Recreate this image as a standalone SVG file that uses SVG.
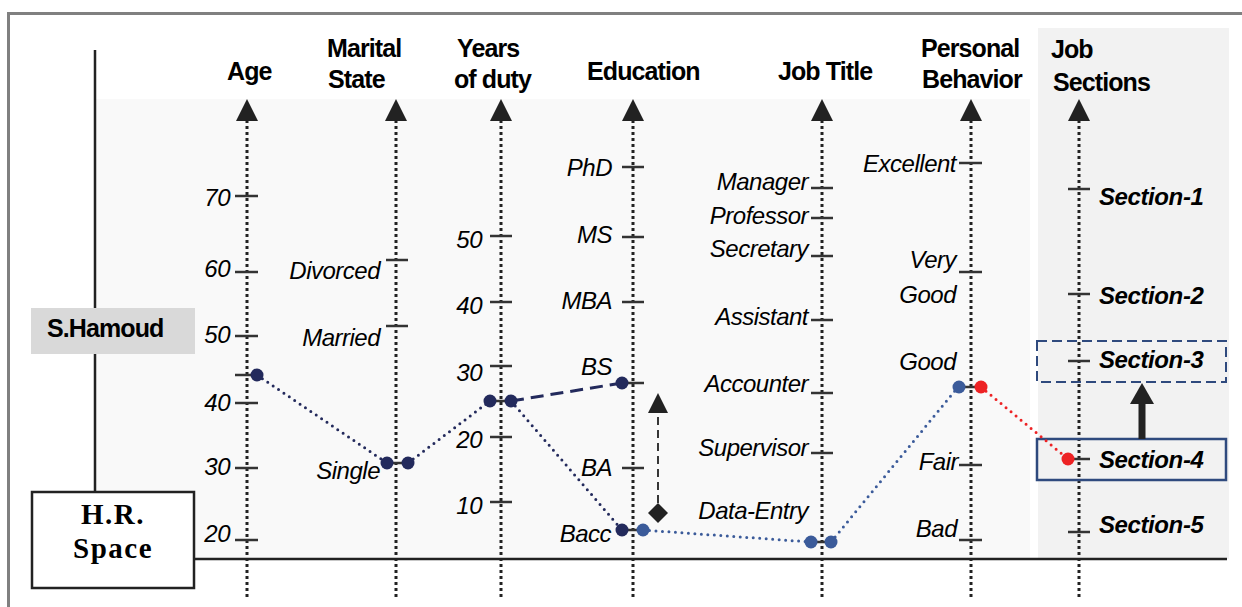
<svg xmlns="http://www.w3.org/2000/svg" width="1242" height="607" viewBox="0 0 1242 607">
<defs>
<style>
.hdr{font-family:"Liberation Sans",Arial,sans-serif;font-weight:bold;font-size:25px;letter-spacing:-0.9px;fill:#000}
.lbl{font-family:"Liberation Sans",Arial,sans-serif;font-style:italic;font-size:24px;letter-spacing:-0.5px;fill:#000;text-anchor:end}
.sec{font-family:"Liberation Sans",Arial,sans-serif;font-style:italic;font-weight:bold;font-size:24px;letter-spacing:-0.4px;fill:#000}
.axis{stroke:#222;stroke-width:3;stroke-dasharray:3 3;fill:none}
.tick{stroke:#333;stroke-width:2.5;fill:none}
.dk{fill:#232a5c}
.lb{fill:#3b5b9a}
.rd{fill:#ed2224}
.dotline{stroke-width:3;stroke-dasharray:0 6.5;stroke-linecap:round;fill:none}
</style>
<marker id="ah" viewBox="0 0 22 22" markerWidth="22" markerHeight="22" refX="11" refY="22" orient="0" markerUnits="userSpaceOnUse">
<path d="M0 22 L11 0 L22 22 Z" fill="#222"/>
</marker>
</defs>
<!-- frame -->
<rect x="8.5" y="13.5" width="1260" height="620" fill="#fff" stroke="#808080" stroke-width="3"/>
<!-- panels -->
<rect x="96" y="99" width="934" height="460" fill="#f9f9f9"/>
<rect x="1038" y="28" width="191" height="531" fill="#f2f2f2"/>
<!-- space axes -->
<g id="space-axes">
<line x1="95" y1="50" x2="95" y2="492" stroke="#222" stroke-width="2.5"/>
<line x1="194" y1="559" x2="1227" y2="559" stroke="#222" stroke-width="2.5"/>
</g>
<g id="hr-space">
<rect x="32" y="492" width="162" height="96" fill="#fff" stroke="#222" stroke-width="2.5"/>
<text x="113" y="524" text-anchor="middle" font-family="Liberation Serif,serif" font-weight="bold" font-size="29" letter-spacing="1.5">H.R.</text>
<text x="113" y="558" text-anchor="middle" font-family="Liberation Serif,serif" font-weight="bold" font-size="29" letter-spacing="1.5">Space</text>
</g>
<g id="s-hamoud">
<rect x="31" y="308" width="164" height="46" fill="#d9d9d9"/>
<text x="47" y="337" class="hdr" letter-spacing="-0.8">S.Hamoud</text>
</g>
<!-- Age -->
<g id="axis-age">
<text x="227" y="80" class="hdr">Age</text>
<line class="axis" x1="247" y1="597" x2="247" y2="121" marker-end="url(#ah)"/>
<line class="tick" x1="235" y1="196" x2="258" y2="196"/>
<line class="tick" x1="235" y1="272" x2="258" y2="272"/>
<line class="tick" x1="235" y1="336" x2="258" y2="336"/>
<line class="tick" x1="235" y1="375" x2="258" y2="375"/>
<line class="tick" x1="235" y1="403" x2="258" y2="403"/>
<line class="tick" x1="235" y1="468" x2="258" y2="468"/>
<line class="tick" x1="235" y1="540" x2="258" y2="540"/>
<text class="lbl" x="230" y="206">70</text>
<text class="lbl" x="230" y="277">60</text>
<text class="lbl" x="230" y="343">50</text>
<text class="lbl" x="230" y="411">40</text>
<text class="lbl" x="230" y="475">30</text>
<text class="lbl" x="230" y="542">20</text>
</g>
<!-- Marital -->
<g id="axis-marital">
<text x="327" y="57" class="hdr">Marital</text>
<text x="328" y="88" class="hdr">State</text>
<line class="axis" x1="396" y1="597" x2="396" y2="121" marker-end="url(#ah)"/>
<line class="tick" x1="386" y1="260" x2="408" y2="260"/>
<line class="tick" x1="386" y1="326" x2="408" y2="326"/>
<line class="tick" x1="387" y1="463" x2="407" y2="463"/>
<text class="lbl" x="380" y="279">Divorced</text>
<text class="lbl" x="380" y="346">Married</text>
<text class="lbl" x="380" y="479">Single</text>
</g>
<!-- Years -->
<g id="axis-years">
<text x="457" y="57" class="hdr">Years</text>
<text x="454" y="88" class="hdr">of duty</text>
<line class="axis" x1="501" y1="597" x2="501" y2="121" marker-end="url(#ah)"/>
<line class="tick" x1="490" y1="236" x2="512" y2="236"/>
<line class="tick" x1="490" y1="302" x2="512" y2="302"/>
<line class="tick" x1="490" y1="366" x2="512" y2="366"/>
<line class="tick" x1="490" y1="401" x2="512" y2="401"/>
<line class="tick" x1="490" y1="437" x2="512" y2="437"/>
<line class="tick" x1="490" y1="502" x2="512" y2="502"/>
<text class="lbl" x="482" y="248">50</text>
<text class="lbl" x="482" y="314">40</text>
<text class="lbl" x="482" y="381">30</text>
<text class="lbl" x="482" y="448">20</text>
<text class="lbl" x="482" y="514">10</text>
</g>
<!-- Education -->
<g id="axis-education">
<text x="587" y="80" class="hdr">Education</text>
<line class="axis" x1="633" y1="597" x2="633" y2="121" marker-end="url(#ah)"/>
<line class="tick" x1="622" y1="167" x2="644" y2="167"/>
<line class="tick" x1="622" y1="237" x2="644" y2="237"/>
<line class="tick" x1="622" y1="302" x2="644" y2="302"/>
<line class="tick" x1="622" y1="383" x2="644" y2="383"/>
<line class="tick" x1="622" y1="468" x2="644" y2="468"/>
<line class="tick" x1="622" y1="530" x2="644" y2="530"/>
<text class="lbl" x="612" y="176">PhD</text>
<text class="lbl" x="612" y="243">MS</text>
<text class="lbl" x="612" y="309">MBA</text>
<text class="lbl" x="612" y="375">BS</text>
<text class="lbl" x="612" y="476">BA</text>
<text class="lbl" x="611" y="542">Bacc</text>
</g>
<!-- Job Title -->
<g id="axis-jobtitle">
<text x="778" y="80" class="hdr">Job Title</text>
<line class="axis" x1="822" y1="597" x2="822" y2="121" marker-end="url(#ah)"/>
<line class="tick" x1="811" y1="188" x2="833" y2="188"/>
<line class="tick" x1="811" y1="218" x2="833" y2="218"/>
<line class="tick" x1="811" y1="256" x2="833" y2="256"/>
<line class="tick" x1="811" y1="320" x2="833" y2="320"/>
<line class="tick" x1="811" y1="393" x2="833" y2="393"/>
<line class="tick" x1="811" y1="453" x2="833" y2="453"/>
<line class="tick" x1="811" y1="542" x2="833" y2="542"/>
<text class="lbl" x="808" y="190">Manager</text>
<text class="lbl" x="808" y="224">Professor</text>
<text class="lbl" x="808" y="257">Secretary</text>
<text class="lbl" x="808" y="325">Assistant</text>
<text class="lbl" x="808" y="392">Accounter</text>
<text class="lbl" x="808" y="456">Supervisor</text>
<text class="lbl" x="808" y="519">Data-Entry</text>
</g>
<!-- Personal Behavior -->
<g id="axis-behavior">
<text x="921" y="57" class="hdr">Personal</text>
<text x="922" y="88" class="hdr">Behavior</text>
<line class="axis" x1="971" y1="597" x2="971" y2="121" marker-end="url(#ah)"/>
<line class="tick" x1="959" y1="163" x2="982" y2="163"/>
<line class="tick" x1="959" y1="272" x2="982" y2="272"/>
<line class="tick" x1="959" y1="387" x2="982" y2="387"/>
<line class="tick" x1="959" y1="465" x2="982" y2="465"/>
<line class="tick" x1="959" y1="540" x2="982" y2="540"/>
<text class="lbl" x="956" y="172">Excellent</text>
<text class="lbl" x="956" y="268">Very</text>
<text class="lbl" x="956" y="303">Good</text>
<text class="lbl" x="956" y="370">Good</text>
<text class="lbl" x="958" y="470">Fair</text>
<text class="lbl" x="957" y="537">Bad</text>
</g>
<!-- Job Sections -->
<g id="axis-sections">
<text x="1051" y="58" class="hdr">Job</text>
<text x="1053" y="91" class="hdr">Sections</text>
<line class="axis" x1="1079" y1="597" x2="1079" y2="121" marker-end="url(#ah)"/>
<line class="tick" x1="1068" y1="189" x2="1090" y2="189"/>
<line class="tick" x1="1068" y1="294" x2="1090" y2="294"/>
<line class="tick" x1="1068" y1="361" x2="1090" y2="361"/>
<line class="tick" x1="1068" y1="459" x2="1090" y2="459"/>
<line class="tick" x1="1068" y1="532" x2="1090" y2="532"/>
<text class="sec" x="1099" y="205">Section-1</text>
<text class="sec" x="1099" y="304">Section-2</text>
<text class="sec" x="1099" y="368">Section-3</text>
<text class="sec" x="1099" y="468">Section-4</text>
<text class="sec" x="1099" y="533">Section-5</text>
</g>
<g id="section3-box">
<rect x="1037" y="341" width="189" height="41" fill="none" stroke="#2f4a7e" stroke-width="2" stroke-dasharray="10 5"/>
</g>
<g id="section4-box">
<rect x="1037" y="439" width="189" height="41" fill="none" stroke="#2f4a7e" stroke-width="2.5"/>
</g>
<!-- connectors -->
<g id="connectors">
<polyline class="dotline" stroke="#232a5c" points="257,375 387,463"/>
<polyline class="dotline" stroke="#232a5c" points="408,463 490,401"/>
<polyline class="dotline" stroke="#232a5c" points="511,401 622,530"/>
<line x1="511" y1="401" x2="622" y2="383" stroke="#232a5c" stroke-width="3" stroke-dasharray="13 7"/>
<polyline class="dotline" stroke="#3b5b9a" points="643,530 811,542"/>
<polyline class="dotline" stroke="#3b5b9a" points="831,542 958,387"/>
<polyline class="dotline" stroke="#ed2224" points="981,387 1068,459"/>
<line x1="658" y1="503" x2="658" y2="413" stroke="#222" stroke-width="1.8" stroke-dasharray="8 5"/>
<path d="M648 413 L658 393 L668 413 Z" fill="#222"/>
<path d="M658 503 L668 513 L658 523 L648 513 Z" fill="#222"/>
<rect x="1138.5" y="402" width="7" height="37" fill="#222"/>
<path d="M1130 404 L1142 383 L1154 404 Z" fill="#222"/>
</g>
<!-- data points -->
<g id="points">
<circle class="dk" cx="257" cy="375" r="6.5"/>
<circle class="dk" cx="387" cy="463" r="6.5"/>
<circle class="dk" cx="408" cy="463" r="6.5"/>
<circle class="dk" cx="490" cy="401" r="6.5"/>
<circle class="dk" cx="511" cy="401" r="6.5"/>
<circle class="dk" cx="622" cy="383" r="6.5"/>
<circle class="dk" cx="622" cy="530" r="6.5"/>
<circle class="lb" cx="643" cy="530" r="6.5"/>
<circle class="lb" cx="811" cy="542" r="6.5"/>
<circle class="lb" cx="831" cy="542" r="6.5"/>
<circle class="lb" cx="959" cy="387" r="6.5"/>
<circle class="rd" cx="981" cy="387" r="6.5"/>
<circle class="rd" cx="1068" cy="459" r="6.5"/>
</g>
</svg>
